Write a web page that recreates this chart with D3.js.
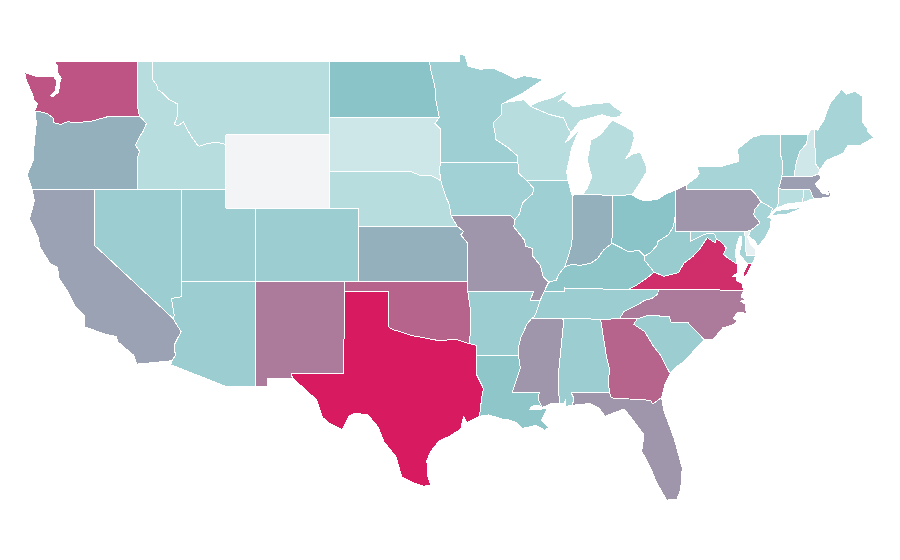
<!DOCTYPE html>
<html><head><meta charset="utf-8">
<script src="https://cdn.jsdelivr.net/npm/d3@7/dist/d3.min.js"></script>
<style>html,body{margin:0;background:#fff}svg{display:block}</style></head>
<body><svg id="map" width="900" height="560"></svg>
<script>
// Border lines: "degrees west degrees north" pairs, shared between neighbouring states
const borders = {
wa_n:"122.76 49,117.03 49",
wa_id:"117.03 49,117.04 46.42,116.92 45.99",
wa_or:"116.92 45.99,118.98 46,119.3 45.93,120.2 45.73,121.2 45.65,121.8 45.7,122.3 45.55,122.75 45.65,122.8 45.9,123.2 46.15,123.7 46.25,124.05 46.27",
wa_coast:"124.05 46.27,123.85 46.7,124.1 46.9,124.2 47.2,124.6 47.9,124.73 48.38,124 48.17,123.1 48.15,122.75 48.15,122.55 47.9,122.65 47.35,123 47.12,122.85 47.05,122.42 47.3,122.35 47.8,122.25 48.05,122.5 48.4,122.5 48.75,122.76 49",
or_id:"116.92 45.99,116.7 45.83,116.46 45.6,116.67 45.2,116.85 44.97,117.2 44.45,117.05 44.23,116.93 44.1,117.03 43.83,117.03 42",
or_s1:"117.03 42,120 42",or_ca:"120 42,124.21 42",
or_coast:"124.21 42,124.55 42.84,124.15 43.6,124.07 44.7,123.95 45.5,123.97 46.2,124.05 46.27",
id_n:"117.03 49,116.05 49",
id_mt:"116.05 49,116.05 48,115.75 47.7,115.7 47.45,115.35 47.26,114.9 46.9,114.32 46.65,114.35 46,114.56 45.56,114.33 45.47,113.95 45.69,113.45 44.95,113 44.45,112.85 44.37,112.3 44.53,112 44.55,111.5 44.55,111.05 44.47",
id_wy:"111.05 44.47,111.05 42",id_ut:"111.05 42,114.05 42",id_nv:"114.05 42,117.03 42",
mt_n:"116.05 49,104.05 49",mt_nd:"104.05 49,104.05 45.94",mt_sd:"104.05 45.94,104.05 45",
mt_wy:"104.05 45,111.05 45",wy_mt2:"111.05 45,111.05 44.47",
wy_sd:"104.05 45,104.05 43",wy_ne:"104.05 43,104.05 41",co_wy:"109.05 41,104.05 41",
wy_ut:"109.05 41,111.05 41,111.05 42",
nd_n:"104.05 49,97.23 49",nd_mn:"97.23 49,97.13 48.5,96.85 47.6,96.8 46.9,96.56 45.94",nd_sd:"96.56 45.94,104.05 45.94",
sd_mn:"96.56 45.94,96.85 45.6,96.45 45.3,96.45 43.5",sd_ia:"96.45 43.5,96.55 43.1,96.45 42.49",
sd_ne:"96.45 42.49,97 42.75,97.9 42.8,98.5 43,104.05 43",
ne_ia:"95.75 40.58,95.87 41.2,96.1 41.6,96.3 42.1,96.45 42.49",ne_mo:"95.31 40,95.75 40.58",
ne_ks:"102.05 40,95.31 40",ne_co:"102.05 40,102.05 41,104.05 41",
ks_mo:"94.62 37,94.62 39.1,95.1 39.55,94.9 39.75,95.31 40",ks_ok:"94.62 37,102.05 37",ks_co:"102.05 37,102.05 40",
co_ok:"102.05 37,103 37",co_nm:"103 37,109.05 37",co_ut:"109.05 37,109.05 41",
ut_az:"109.05 37,114.05 37",ut_nv:"114.05 37,114.05 42",
nv_az:"114.05 37,114.05 36.2,114.75 36.1,114.57 35.2,114.63 35",nv_ca:"114.63 35,120 39,120 42",
ca_az:"114.63 35,114.45 34.75,114.1 34.3,114.55 33.6,114.5 33,114.72 32.72",ca_s:"114.72 32.72,117.13 32.53",
ca_coast:"117.13 32.53,117.3 33,118.4 33.75,118.5 34.03,119.2 34.15,120.63 34.55,120.65 35.15,121.3 35.7,121.9 36.6,122.4 37.2,122.5 37.8,123 38,123.7 38.9,123.8 39.4,124.4 40.44,124.07 41.4,124.21 42",
az_nm:"109.05 37,109.05 31.33",az_s:"109.05 31.33,111.07 31.33,114.8 32.5,114.72 32.72",
nm_ok:"103 37,103 36.5",nm_tx:"103 36.5,103.05 32,106.62 32,106.53 31.78",nm_s:"106.53 31.78,108.2 31.78,108.2 31.33,109.05 31.33",
ok_mo:"94.62 37,94.62 36.5",ok_ar:"94.62 36.5,94.43 35.4,94.48 33.64",
ok_tx:"94.48 33.64,95.5 33.9,96.5 33.8,97.2 33.9,97.7 33.98,98.5 34.1,99.2 34.3,99.7 34.4,100 34.56,100 36.5,103 36.5",
tx_ar:"94.48 33.64,94.04 33.55,94.04 33.02",tx_la:"94.04 33.02,94.04 32,93.55 31.2,93.7 30.6,93.75 30.1,93.85 29.7",
tx_coast:"93.85 29.7,94.7 29.35,94.9 29.7,95.1 29,95.9 28.6,96.5 28.4,96.9 28.05,97.2 27.7,97.4 27.3,97.35 26.5,97.15 25.96",
rio:"97.15 25.96,97.6 25.9,98.25 26.07,99.1 26.4,99.5 27.5,100.3 28.3,100.7 29.1,101.4 29.77,102.3 29.88,102.7 29.7,103.15 28.98,104 29.3,104.5 29.65,104.9 30.6,106 31.4,106.53 31.78",
mn_n:"97.23 49,95.15 49,95.15 49.38,94.8 49.3,94.6 48.72,93.8 48.55,92.95 48.62,92 48.3,91.4 48.05,90.8 48.2,90 48.1,89.5 48",
mn_sh:"89.5 48,90.8 47.3,91.5 47,92.1 46.75",
mn_wi:"92.1 46.75,92.3 46.65,92.3 46.1,92.9 45.65,92.75 45,92.75 44.75,91.9 44.3,91.25 43.85,91.22 43.5",
mn_ia:"91.22 43.5,96.45 43.5",
ia_wi:"91.22 43.5,91.15 42.9,90.64 42.51",ia_il:"90.64 42.51,90.15 42.1,90.2 41.8,90.9 41.3,91.1 40.7,91.42 40.38",ia_mo:"91.42 40.38,91.7 40.6,95.75 40.58",
mo_il:"91.42 40.38,91.5 40,90.75 39.25,90.7 38.95,90.2 38.8,90.2 38.4,89.7 37.9,89.5 37.3,89.13 36.98",
mo_ky:"89.13 36.98,89.42 36.5",mo_tn:"89.42 36.5,89.7 36",mo_ar:"89.7 36,90.37 36,90.15 36.5,94.62 36.5",
ar_tn:"89.7 36,89.9 35.5,90.1 35.1,90.3 35",ar_ms:"90.3 35,90.6 34.7,91 34,91.2 33.4,91.17 33",ar_la:"91.17 33,94.04 33.02",
la_ms:"91.17 33,91.05 32.3,91.6 31,89.75 31,89.85 30.65,89.55 30.18",
la_coast:"89.55 30.18,89.8 30.3,90.3 30.25,90.4 30.05,89.9 30.05,89.2 30.15,89.4 29.8,89.6 29.5,89.1 29.1,89.4 28.95,90 29.2,90.9 29.05,91.3 29.35,91.8 29.5,92.3 29.55,93.2 29.78,93.85 29.7",
ms_tn:"90.3 35,88.2 35",ms_al:"88.2 35,88.1 34.9,88.47 31.9,88.4 30.37",ms_coast:"88.4 30.37,89 30.38,89.55 30.18",
al_tn:"88.2 35,85.6 34.98",al_ga:"85.6 34.98,85.18 32.87,85 32.3,85.05 31.55,85 31",al_fl:"85 31,87.6 31,87.4 30.65,87.52 30.3",
al_coast:"87.52 30.3,88 30.23,87.95 30.65,88.1 30.4,88.4 30.37",
tn_ky:"89.42 36.5,88.07 36.5,88.07 36.68,87.85 36.64,86 36.62,83.68 36.6",tn_va:"83.68 36.6,81.68 36.59",
tn_nc:"81.68 36.59,81.7 36.35,82.1 36.1,82.6 36,83.1 35.75,84 35.4,84.32 34.99",tn_ga:"84.32 34.99,85.6 34.98",
ky_va:"83.68 36.6,83.1 36.85,82.3 37.3,81.97 37.54",ky_wv:"81.97 37.54,82.6 38.17,82.6 38.4",
ky_oh:"82.6 38.4,83 38.73,83.7 38.63,84.2 38.85,84.82 39.1",ky_in:"84.82 39.1,85.4 38.73,85.8 38.27,86.3 38,87 37.9,87.6 37.95,88.05 37.8",
il_ky:"88.05 37.8,88.45 37.4,88.6 37.1,89.13 36.98",il_wi:"90.64 42.51,87.8 42.49",il_lake:"87.8 42.49,87.6 41.85,87.52 41.7",
il_in:"87.52 41.7,87.53 39.35,87.6 38.9,87.95 38,88.05 37.8",
in_lake:"87.52 41.7,87.2 41.76,86.82 41.76",in_mi:"86.82 41.76,84.81 41.7",in_oh:"84.81 41.7,84.82 39.1",
oh_mi:"84.81 41.7,83.45 41.73",oh_lake:"83.45 41.73,83 41.5,82.5 41.4,81.7 41.5,81.2 41.77,80.52 41.98",oh_pa:"80.52 41.98,80.52 40.64",
oh_wv:"80.52 40.64,80.65 40,81 39.55,81.7 39.2,81.75 39,82.2 38.6,82.6 38.4",
mi_lower:"86.82 41.76,86.5 42.1,86.2 42.7,86.5 43.6,86.25 44.7,85.6 45,85 45.6,84.75 45.78,84.3 45.6,83.4 45.2,83.3 44.8,83.6 44.05,83.9 43.7,83.4 43.95,82.9 44.05,82.5 43.3,82.45 43,82.9 42.4,83.15 42.1,83.45 41.73",
wi_mi:"90.4 46.55,89.1 46.1,88.1 45.9,87.8 45.35,87.6 45.1",
mi_up:"87.6 45.1,87 45.75,86.3 45.9,85.5 46.08,84.75 45.9,84.3 46,84.1 46.2,84.6 46.47,85 46.75,86.1 46.67,87.4 46.5,88.2 46.95,88.45 46.8,87.7 47.45,88.9 47,89.8 46.8,90.4 46.55",
isle_royale:"89.2 47.85,88.45 48.15,88.5 48.05,89.1 47.82",
wi_sup:"90.4 46.55,90.8 46.9,92.1 46.75",wi_lake:"87.8 42.49,87.9 43,87.55 44.3,87.05 45.25,88 44.55,87.6 45.1",
pa_lake:"80.52 41.98,79.76 42.27",pa_ny:"79.76 42.27,79.76 42,75.35 42",pa_ny2:"75.35 42,75.05 41.75,74.7 41.36",
pa_nj:"74.7 41.36,75.1 40.95,75.2 40.65,74.75 40.2,75.4 39.8",pa_de:"75.4 39.8,75.8 39.72",pa_md:"75.8 39.72,79.48 39.72",pa_wv:"79.48 39.72,80.52 39.72,80.52 40.64",
ny_w:"79.76 42.27,79.05 42.7,78.9 42.9,79.05 43.27,77.5 43.25,76.4 43.5,76.2 43.55,76.3 44.2,75.3 44.85,74.7 45,73.35 45.01",
ny_vt:"73.35 45.01,73.4 44,73.25 43.55,73.27 42.75",ny_ma:"73.27 42.75,73.5 42.05",ny_ct:"73.5 42.05,73.5 41.3,73.65 41",
ny_city:"73.65 41,73.9 40.8,74.05 40.65",ny_nj:"74.05 40.65,73.92 41,74.7 41.36",
long_island:"74 40.6,72.8 40.7,71.9 41.05,72.6 40.98,73.7 40.87,74 40.6",
vt_n:"73.35 45.01,71.5 45.01",vt_nh:"71.5 45.01,71.6 44.5,72.05 44.1,72.3 43.5,72.46 42.73",vt_ma:"72.46 42.73,73.27 42.75",
nh_n:"71.5 45.01,71.3 45.3,71.08 45.3",nh_me:"71.08 45.3,70.98 43.4,70.7 43.08",nh_coast:"70.7 43.08,70.82 42.87",nh_ma:"70.82 42.87,71.3 42.7,71.9 42.71,72.46 42.73",
me_coast:"71.08 45.3,70.85 45.25,70.4 45.8,70.25 46.2,70 46.7,69.23 47.46,68.9 47.2,68.3 47.35,67.8 47.07,67.8 45.7,67.45 45.3,67.45 45.15,67 44.85,68 44.4,68.8 44.4,69.1 44,69.8 43.75,70.25 43.6,70.7 43.08",
ma_coast:"70.82 42.87,70.6 42.65,71 42.3,70.65 41.95,70.5 41.78,70.1 41.77,70.2 42.07,69.95 41.8,70 41.62,70.65 41.55,71.1 41.5",
ma_ri:"71.1 41.5,71.38 42.02,71.8 42.02",ma_ct:"71.8 42.02,73.5 42.05",ri_coast:"71.1 41.5,71.4 41.45,71.86 41.32",ri_ct:"71.86 41.32,71.8 42.02",
ct_coast:"71.86 41.32,72.9 41.25,73.65 41",
nj_coast:"75.4 39.8,75.55 39.5,75.1 39.2,74.9 38.93,74.4 39.4,74.05 40,74 40.45,74.25 40.5,74.05 40.65",
de_coast:"75.4 39.8,75.6 39.45,75.4 39.05,75.1 38.8,75.05 38.45",de_md:"75.05 38.45,75.7 38.46,75.8 39.72",
md_coast:"75.05 38.45,75.25 38.03",md_es:"75.25 38.03,75.6 37.97",
md_bay:"75.6 37.97,75.85 38.2,76.2 38.55,76.05 38.95,76.0 39.45,76.15 39.45,76.35 39,76.45 38.5,76.3 37.95",
md_va:"77.72 39.32,77.45 39.2,77.05 38.85,77.25 38.5,76.95 38.3,76.3 37.95",
md_wv:"79.48 39.72,79.48 39.2,78.9 39.45,78.4 39.62,77.85 39.6,77.72 39.32",
va_wv:"81.97 37.54,81.3 37.3,80.3 37.5,79.95 38,79.3 38.4,78.85 38.8,78.35 39.4,77.83 39.13,77.72 39.32",
va_bay:"76.3 37.95,76.3 37.5,76.6 37.3,76.3 37.25,76.4 37.1,76 36.92,75.87 36.55",va_nc:"75.87 36.55,81.68 36.59",va_es:"75.25 38.03,75.6 37.5,75.9 37.15,75.85 37.55,75.6 37.97",
nc_coast:"75.87 36.55,76.05 36.2,75.75 36.05,76.1 35.95,75.75 35.8,75.7 35.3,76.3 35.35,76.6 35,76.3 34.95,76.5 34.7,77.3 34.5,77.95 33.87,78.55 33.86",
nc_sc:"78.55 33.86,79.67 34.8,80.8 34.82,80.93 35.1,82.3 35.2,83.1 35",nc_ga:"83.1 35,84.32 34.99",
sc_coast:"78.55 33.86,79.1 33.4,79.9 32.7,80.5 32.35,80.87 32.03",sc_ga:"80.87 32.03,81.2 32.5,81.5 33,82 33.5,82.6 34.3,83.35 34.7,83.1 35",
ga_coast:"80.87 32.03,81.2 31.5,81.45 30.72",ga_fl:"81.45 30.72,82.05 30.37,82.2 30.57,84.86 30.7,85 31",
fl_coast:"81.45 30.72,81.3 30,80.6 28.5,80.05 26.9,80.15 25.75,80.4 25.2,81.1 25.15,81.8 26.1,82.2 26.9,82.8 27.8,82.65 28.7,83.4 29.5,84 30.1,85.3 29.7,85.7 30.15,86.3 30.4,87.52 30.3"
};
const stateNames = ["WA","OR","ID","MT","WY","ND","SD","NE","KS","CO","UT","NV","CA","AZ","NM","OK","TX","MN","IA","MO","AR","LA","MS","AL","TN","KY","IL","IN","OH","MI","WI","PA","NY","VT","NH","ME","MA","RI","CT","NJ","DE","MD","VA","WV","NC","SC","GA","FL"];
const stateValues = [166,112,59,59,0,100,37,59,112,85,85,85,120,85,143,157,200,82,80,127,85,97,127,85,85,97,82,112,100,59,59,127,74,87,35,74,122,58,58,74,13,75,189,88,143,85,157,127];
const stateRings = [
[["wa_n","wa_id","wa_or","wa_coast"]],
[["-wa_or","or_id","or_s1","or_ca","or_coast"]],
[["id_n","id_mt","id_wy","id_ut","id_nv","-or_id","-wa_id"]],
[["mt_n","mt_nd","mt_sd","mt_wy","wy_mt2","-id_mt"]],
[["-mt_wy","wy_sd","wy_ne","-co_wy","wy_ut","-id_wy","-wy_mt2"]],
[["nd_n","nd_mn","nd_sd","-mt_nd"]],
[["-nd_sd","sd_mn","sd_ia","sd_ne","-wy_sd","-mt_sd"]],
[["-sd_ne","-ne_ia","-ne_mo","-ne_ks","ne_co","-wy_ne"]],
[["ne_ks","-ks_mo","ks_ok","ks_co"]],
[["co_wy","-ne_co","-ks_co","co_ok","co_nm","co_ut"]],
[["-id_ut","-wy_ut","-co_ut","ut_az","ut_nv"]],
[["-or_s1","-id_nv","-ut_nv","nv_az","nv_ca"]],
[["-or_ca","-nv_ca","ca_az","ca_s","ca_coast"]],
[["-ut_az","az_nm","az_s","-ca_az","-nv_az"]],
[["-co_nm","nm_ok","nm_tx","nm_s","-az_nm"]],
[["-co_ok","-ks_ok","ok_mo","ok_ar","ok_tx","-nm_ok"]],
[["-ok_tx","tx_ar","tx_la","tx_coast","rio","-nm_tx"]],
[["mn_n","mn_sh","mn_wi","mn_ia","-sd_mn","-nd_mn"]],
[["-mn_ia","ia_wi","ia_il","ia_mo","ne_ia","-sd_ia"]],
[["-ia_mo","mo_il","mo_ky","mo_tn","mo_ar","-ok_mo","ks_mo","ne_mo"]],
[["-mo_ar","ar_tn","ar_ms","ar_la","-tx_ar","-ok_ar"]],
[["-ar_la","la_ms","la_coast","-tx_la"]],
[["ms_tn","ms_al","ms_coast","-la_ms","-ar_ms"]],
[["al_tn","al_ga","al_fl","al_coast","-ms_al"]],
[["tn_ky","tn_va","tn_nc","tn_ga","-al_tn","-ms_tn","-ar_tn","-mo_tn"]],
[["-il_ky","-ky_in","-ky_oh","-ky_wv","-ky_va","-tn_ky","-mo_ky"]],
[["il_wi","il_lake","il_in","il_ky","-mo_il","-ia_il"]],
[["in_lake","in_mi","in_oh","ky_in","-il_in"]],
[["oh_mi","oh_lake","oh_pa","oh_wv","ky_oh","-in_oh"]],
[["mi_lower","-oh_mi","-in_mi"],["wi_mi","mi_up"],["isle_royale"]],
[["-wi_mi","wi_sup","mn_wi","ia_wi","il_wi","wi_lake"]],
[["pa_lake","pa_ny","pa_ny2","pa_nj","pa_de","pa_md","pa_wv","-oh_pa"]],
[["ny_w","ny_vt","ny_ma","ny_ct","ny_city","ny_nj","-pa_ny2","-pa_ny"],["long_island"]],
[["vt_n","vt_nh","vt_ma","-ny_vt"]],
[["nh_n","nh_me","nh_coast","nh_ma","-vt_nh"]],
[["me_coast","-nh_me"]],
[["-vt_ma","-nh_ma","ma_coast","ma_ri","ma_ct","-ny_ma"]],
[["-ma_ri","ri_coast","ri_ct"]],
[["-ma_ct","-ri_ct","ct_coast","-ny_ct"]],
[["pa_nj","nj_coast","ny_nj"]],
[["-pa_de","de_coast","de_md"]],
[["-pa_md","-de_md","md_coast","md_es","md_bay","-md_va","-md_wv"]],
[["ky_va","va_wv","md_va","va_bay","va_nc","-tn_va"],["-md_es","va_es"]],
[["-pa_wv","md_wv","-va_wv","ky_wv","-oh_wv"]],
[["-va_nc","nc_coast","nc_sc","nc_ga","-tn_nc"]],
[["-nc_sc","sc_coast","sc_ga"]],
[["-tn_ga","-nc_ga","-sc_ga","ga_coast","ga_fl","-al_ga"]],
[["-ga_fl","fl_coast","-al_fl"]]
];
const colorDomain = [0,60,100,200];
const colorStops = ["#f3f4f6","#b6dddf","#8bc4c8","#d81b60"];

const color = d3.scaleLinear().domain(colorDomain).range(colorStops);
const x = d3.scaleLinear().domain([-104.05,-66.95]).range([329,875]);
const y = d3.scaleLinear().domain([49,25.1]).range([61,501]);
const path = d3.geoPath(d3.geoTransform({point(lon,lat){this.stream.point(x(lon),y(lat));}}));
const arc = k=>{
  const rev=k[0]==="-", pts=borders[rev?k.slice(1):k].split(",").map(s=>{const [a,b]=s.split(" ").map(Number);return [-a,b];});
  return rev?pts.reverse():pts;
};
const features = stateNames.map((name,i)=>({
  type:"Feature",properties:{name,value:stateValues[i]},
  geometry:{type:"MultiPolygon",coordinates:stateRings[i].map(r=>[r.flatMap(arc)])}
}));
d3.select("#map").selectAll("path").data(features).join("path")
  .attr("d",path)
  .attr("fill",d=>color(d.properties.value))
  .attr("stroke","#fff").attr("stroke-width",1).attr("stroke-linejoin","round")
  .attr("shape-rendering","crispEdges");
</script></body></html>
